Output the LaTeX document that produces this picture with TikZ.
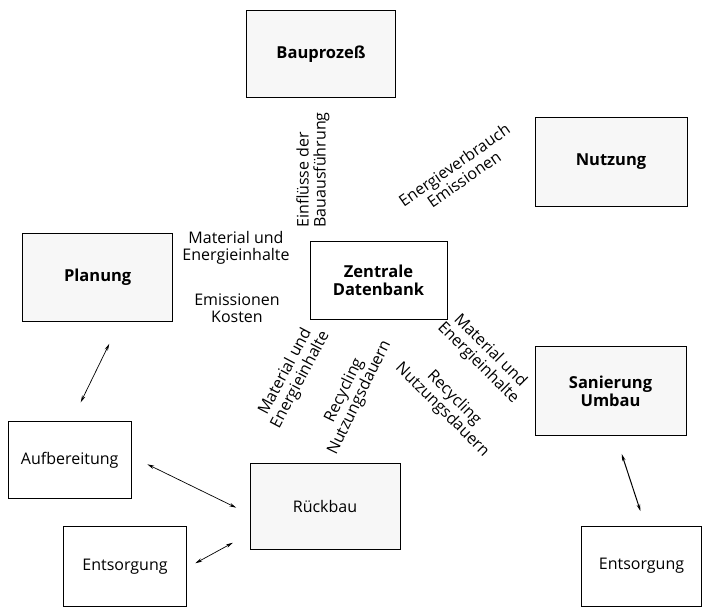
\documentclass[tikz,border=0pt]{standalone}
\usepackage{fontspec}
\setmainfont{Open Sans}
\usetikzlibrary{arrows.meta}
\begin{document}
\begin{tikzpicture}[x=1pt,y=-1pt,
  box/.style={draw=black, line width=0.9pt, inner sep=0pt, align=center},
  tint/.style={box, fill=black!3},
  blab/.style={font=\fontsize{16.5}{18}\selectfont\bfseries},
  nlab/.style={font=\fontsize{16}{17}\selectfont},
  lab/.style={align=center, inner sep=0pt, font=\fontsize{16}{17}\selectfont},
  dbl/.style={{Stealth[length=7pt,width=3.5pt]}-{Stealth[length=7pt,width=3.5pt]}, line width=0.7pt}
]
\useasboundingbox (0,0) rectangle (702,608);
% boxes
\node[tint, blab, minimum width=149pt, minimum height=87pt] (bau) at (321,54) {Bauprozeß};
\node[tint, blab, minimum width=152pt, minimum height=89pt] (nutz) at (611,161.5) {Nutzung};
\node[tint, blab, minimum width=150pt, minimum height=88pt] (plan) at (97.7,277) {Planung};
\node[box, blab, minimum width=137pt, minimum height=78pt] (zdb) at (378.5,280) {Zentrale\\Datenbank};
\node[tint, blab, minimum width=151pt, minimum height=89pt] (san) at (610.5,391) {Sanierung\\Umbau};
\node[box, nlab, minimum width=123pt, minimum height=77pt] (auf) at (69.7,460.3) {Aufbereitung};
\node[tint, nlab, minimum width=150pt, minimum height=86pt] (rueck) at (325,506) {Rückbau};
\node[box, nlab, minimum width=123pt, minimum height=80pt] (ent1) at (125,566.7) {Entsorgung};
\node[box, nlab, minimum width=120pt, minimum height=80pt] (ent2) at (641.5,566) {Entsorgung};
% labels
\node[lab, align=left, rotate=90] (l1) at (313,170) {Einflüsse der\\Bauausführung};
\node[lab, rotate=35] (l2) at (459,172) {Energieverbrauch\\Emissionen};
\node[lab] (l3) at (236,248) {Material und\\Energieinhalte};
\node[lab] (l4) at (237,308) {Emissionen\\Kosten};
\node[lab, rotate=62] (l5) at (293,376) {Material und\\Energieinhalte};
\node[lab, rotate=64] (l6) at (352,394) {Recycling\\Nutzungsdauern};
\node[lab, rotate=-45] (l7) at (448,404) {Recycling\\Nutzungsdauern};
\node[lab, rotate=-45] (l8) at (484,357) {Material und\\Energieinhalte};
% arrows
\draw[dbl] ([shift={(11.6,22.3)}]plan.south) -- ([shift={(11,-19)}]auf.north);
\draw[dbl] ([shift={(15.7,4)}]auf.east) -- ([shift={(-13.3,1.7)}]rueck.west);
\draw[dbl] ([shift={(8.3,-3.4)}]ent1.east) -- ([shift={(-16.7,-6.7)}]rueck.south west);
\draw[dbl, line width=1pt] ([shift={(11.2,18)}]san.south) -- ([shift={(-1,-14.3)}]ent2.north);
\end{tikzpicture}
\end{document}
